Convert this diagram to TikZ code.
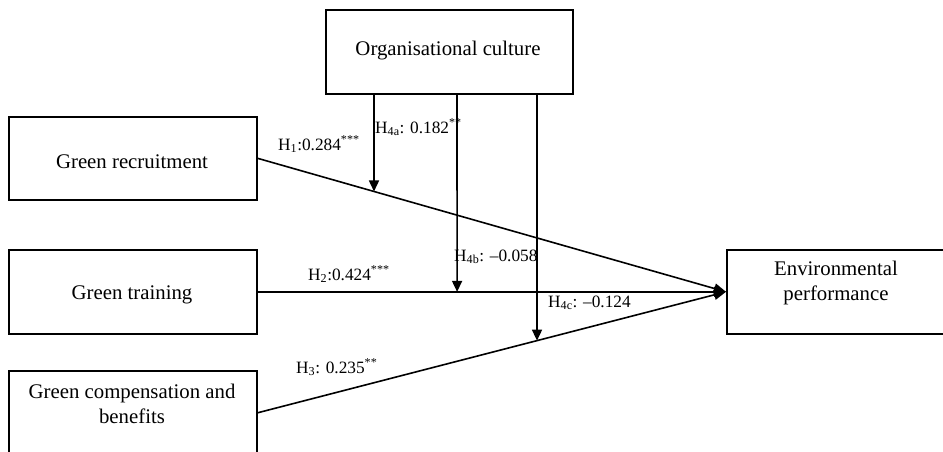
\documentclass[tikz,border=0pt]{standalone}
\usepackage{fontspec}
\setmainfont{Liberation Serif}
\usetikzlibrary{arrows.meta,calc}
\begin{document}
\begin{tikzpicture}[x=1pt,y=-1pt,
  box/.style={draw, line width=1.6pt, minimum width=248pt, minimum height=84pt, inner sep=0pt, anchor=north west},
  txt/.style={font=\fontsize{20.8}{25}\selectfont, inner sep=0pt, align=center},
  lab/.style={font=\fontsize{17.3}{20}\selectfont, inner sep=0pt, anchor=base west},
  conn/.style={line width=1.6pt, -{Triangle[length=12pt,width=10pt]}},
  mod/.style={line width=1.6pt, -{Triangle[length=11pt,width=10pt]}}]
\clip (0,0) rectangle (943,451);
% boxes
\node[box, minimum width=247pt] (oc) at (325,9) {};
\node[box, minimum height=83pt] (gr) at (8,116) {};
\node[box] (gt) at (8,249) {};
\node[box] (gc) at (8,370) {};
\node[box, minimum width=226pt] (ep) at (726,249) {};
% texts
\node[txt] (toc) at (448,51) {Organisational culture};
\node[txt] (tgr) at (132,162) {Green recruitment};
\node[txt] (tgt) at (132,295) {Green training};
\node[txt] (tgc) at (132,404) {Green compensation and\\benefits};
\node[txt] (tep) at (836,283) {Environmental\\performance};
% main paths
\draw[conn] (gr.east) -- (ep.west);
\draw[conn] (gt.east) -- (ep.west);
\draw[conn] (gc.east) -- (ep.west);
% moderator columns
\coordinate (c1) at (374,0);
\coordinate (c2) at (457,0);
\coordinate (c3) at (537,0);
\path (oc.south -| c1) coordinate (a1);
\path (oc.south -| c2) coordinate (a2);
\path (oc.south -| c3) coordinate (a3);
\coordinate (b1) at (intersection of gr.east--ep.west and a1--c1);
\coordinate (b2) at (intersection of gt.east--ep.west and a2--c2);
\coordinate (b3) at (intersection of gc.east--ep.west and a3--c3);
\draw[mod] (a1) -- (b1);
\draw[mod] (a2) -- (b2);
\draw[mod] (a3) -- (b3);
% labels
\node[lab] (h1) at (278,150) {H\textsubscript{1}:0.284\textsuperscript{***}};
\node[lab] (h4a) at (375,133) {H\textsubscript{4a}: 0.182\textsuperscript{**}};
\node[lab] (h2) at (308,280) {H\textsubscript{2}:0.424\textsuperscript{***}};
\node[lab] (h4b) at (454,261) {H\textsubscript{4b}: –0.058};
\node[lab] (h4c) at (548,307) {H\textsubscript{4c}: –0.124};
\node[lab] (h3) at (296,373) {H\textsubscript{3}: 0.235\textsuperscript{**}};
\end{tikzpicture}
\end{document}
